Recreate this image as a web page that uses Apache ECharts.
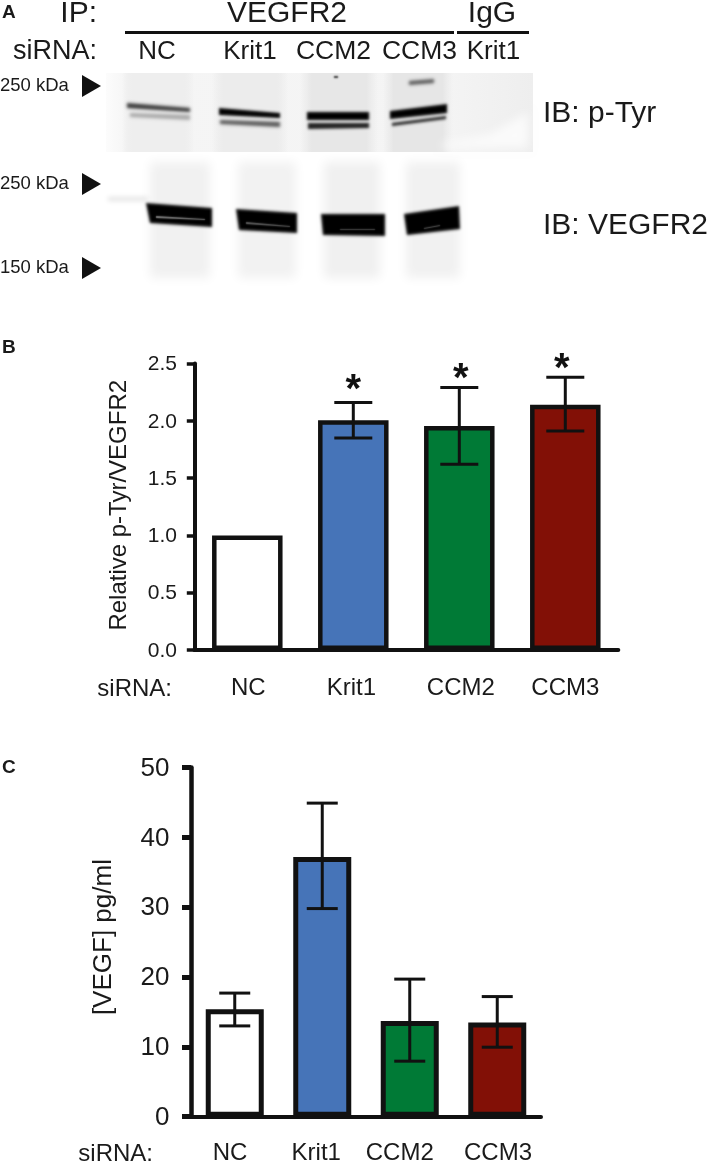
<!DOCTYPE html>
<html><head><meta charset="utf-8">
<style>html,body{margin:0;padding:0;background:#fff}#c{width:709px;height:1163px}</style>
<script src="https://cdn.jsdelivr.net/npm/echarts@6/dist/echarts.min.js"></script>
</head><body><div id="c"></div>
<script>
const categories = ['NC','Krit1','CCM2','CCM3'];
const barColors = ['#ffffff','#4674b8','#007a36','#821006'];
const ratioTicks = [0,0.5,1.0,1.5,2.0,2.5];
const ratioValues = [1.0,2.005,1.955,2.14];
const ratioLow = [null,1.85,1.62,1.91];
const ratioHigh = [null,2.16,2.29,2.38];
const ratioStarLevel = [null,2.26,2.353,2.44];
const starNudge = [0,0,1.5,-3.5];
const vegfTicks = [0,10,20,30,40,50];
const vegfValues = [15.4,37.2,13.7,13.5];
const vegfLow = [13,29.8,7.95,9.95];
const vegfHigh = [17.7,44.9,19.7,17.2];
const labelNudgeB = [1,-2,1.5,0];
const labelNudgeC = [-4.75,-6,-10,0.75];
const sans = '"Liberation Sans",Arial,sans-serif';
const ink = '#111';
const textInk = '#1a1a1a';
const Grad = echarts.graphic.LinearGradient;

function txt(x,y,s,size,opt){opt=opt||{};return {type:'text',x:x,y:y,z:8,scaleX:opt.sx||1,style:{text:s,fill:textInk,font:(opt.bold?'bold ':'')+size+'px '+sans,textAlign:opt.align||'left',textVerticalAlign:'middle'}};}
// soft shape: only its blurred shadow lands on the canvas
function soft(pts,fill,blur,z){return {type:'polygon',z:z,x:-2000,silent:true,shape:{points:pts},style:{fill:fill,shadowBlur:blur,shadowColor:fill,shadowOffsetX:2000}};}
function box(x,y,w,h){return [[x,y],[x+w,y],[x+w,y+h],[x,y+h]];}
function lane(x,w,fill){return {type:'rect',z:5,shape:{x:x,y:73,width:w,height:79},style:{fill:new Grad(0,0,1,0,[{offset:0,color:'rgba(232,232,232,0)'},{offset:.15,color:fill},{offset:.85,color:fill},{offset:1,color:'rgba(232,232,232,0)'}])}};}
function line(x1,y1,x2,y2,w){return {type:'line',z:8,shape:{x1:x1,y1:y1,x2:x2,y2:y2},style:{stroke:ink,lineWidth:w}};}
function arrow(y){return {type:'polygon',z:8,shape:{points:[[82,y-11],[101,y],[82,y+11]]},style:{fill:'#111'}};}

const blotLower = [
  soft(box(150,162,60,116),'#f1f1f1',10,1), soft(box(238,162,58,116),'#f2f2f2',10,1),
  soft(box(324,162,56,116),'#f0f0f0',10,1), soft(box(406,162,54,116),'#f1f1f1',10,1),
  soft(box(108,197,40,4),'#e2e2e2',5,1),
  soft([[146,203],[212,208],[212,227],[150,223]],'#000000',3,2),
  soft([[236,209],[297,213],[297,233],[239,230]],'#000000',3,2),
  soft([[321,214],[385,214],[385,236],[323,235]],'#000000',3,2),
  soft([[404,214],[459,206],[460,229],[407,235]],'#000000',3,2),
  soft([[156,216],[205,219],[205,220],[156,218]],'#8a8a8a',1.5,3),
  soft([[246,222],[290,226],[290,227],[246,224]],'#666666',1.5,3),
  soft([[340,229],[375,229],[375,230],[340,230]],'#555555',1.5,3),
  soft([[424,228],[440,225],[440,226],[424,229]],'#666666',1.5,3),
];
const blotUpper = [
  {type:'rect',z:4,shape:{x:106,y:73,width:427,height:79},style:{fill:new Grad(0,0,1,0,[{offset:0,color:'#fcfcfc'},{offset:.05,color:'#f5f5f5'},{offset:.8,color:'#f4f4f4'},{offset:1,color:'#eeeeee'}])}},
  lane(122,72,'#eeeeee'), lane(212,76,'#ececec'), lane(300,78,'#e7e7e7'), lane(383,70,'#e6e6e6'),
  soft([[442,143],[490,134],[528,112],[528,148],[442,148]],'#fbfbfb',10,5),
  soft([[127,103],[190,108],[190,112],[127,108]],'#333333',3.5,6),
  soft([[130,113],[190,115],[190,120],[130,117]],'#a8a8a8',3.5,6),
  soft([[219,108],[280,113],[280,118],[219,115]],'#000000',3,6),
  soft([[220,120],[280,122],[280,127],[220,124]],'#555555',3.5,6),
  soft([[307,112],[369,112],[369,120],[307,120]],'#000000',3,6),
  soft([[308,123],[369,123],[369,128],[308,129]],'#222222',3,6),
  soft([[390,111],[447,104],[447,113],[390,119]],'#000000',3,6),
  soft([[392,123],[446,116],[446,119],[392,126]],'#222222',3,6),
  soft([[409,81],[434,79],[434,83],[409,85]],'#555555',3.5,6),
  soft([[334,76],[338,76],[338,78],[334,78]],'#333333',2,6),
];

const graphics = blotLower.concat(blotUpper,[
  txt(2,13,'A',19,{bold:true}),
  txt(97,14,'IP:',30,{align:'right'}),
  txt(287,14,'VEGFR2',30,{align:'center'}),
  txt(492,14,'IgG',30,{align:'center'}),
  line(125,32.5,454,32.5,3), line(457,32.5,529,32.5,3),
  txt(97,52,'siRNA:',27,{align:'right'}),
  txt(157,52,'NC',26,{align:'center'}),
  txt(250,52,'Krit1',26,{align:'center'}),
  txt(333.5,52,'CCM2',26.5,{align:'center'}),
  txt(419.5,52,'CCM3',26.5,{align:'center'}),
  txt(493.5,52,'Krit1',26,{align:'center'}),
  txt(0,86,'250 kDa',18.5), txt(0,184,'250 kDa',18.5), txt(0,268,'150 kDa',18.5),
  arrow(86), arrow(184), arrow(268),
  txt(543,114,'IB: p-Tyr',30),
  txt(543,226,'IB: VEGFR2',30),
  txt(2,348,'B',19,{bold:true}),
  txt(2,768,'C',19,{bold:true}),
  txt(172,689,'siRNA:',24,{align:'right'}),
  txt(153,1154,'siRNA:',24,{align:'right'}),
]);

function errorSeries(xi,low,high,cap,stars){
  return {type:'custom',xAxisIndex:xi,yAxisIndex:xi,z:10,
    data:categories.map((c,i)=>[i,low[i],high[i]]),
    renderItem:(p,api)=>{
      const i=api.value(0); if(low[i]==null) return {type:'group',children:[]};
      const a=api.coord([i,low[i]]), b=api.coord([i,high[i]]);
      const s={stroke:ink,lineWidth:3};
      const ch=[
        {type:'line',shape:{x1:a[0],y1:a[1],x2:b[0],y2:b[1]},style:s},
        {type:'line',shape:{x1:a[0]-cap,y1:a[1],x2:a[0]+cap,y2:a[1]},style:s},
        {type:'line',shape:{x1:b[0]-cap,y1:b[1],x2:b[0]+cap,y2:b[1]},style:s}];
      if(stars&&stars[i]!=null){const t=api.coord([i,stars[i]]);ch.push({type:'text',x:t[0]+starNudge[i],y:t[1],style:{text:'*',font:'bold 40px '+sans,fill:ink,textAlign:'center',textVerticalAlign:'middle'}});}
      return {type:'group',children:ch};
    }};
}
// tick and category labels placed through the axis scales, with their individual offsets
function labelSeries(xi,ticks,fmt,size,tickX,nudge,xSize,xDrop){
  return {type:'custom',xAxisIndex:xi,yAxisIndex:xi,z:11,silent:true,
    data:[0],
    renderItem:(p,api)=>{
      const ch=[];
      ticks.forEach(t=>{const c=api.coord([0,t]);
        ch.push({type:'text',x:tickX,y:c[1]+1,style:{text:fmt(t),font:size+'px '+sans,fill:textInk,textAlign:'right',textVerticalAlign:'middle'}});});
      categories.forEach((n,i)=>{const c=api.coord([i,0]);
        ch.push({type:'text',x:c[0]+nudge[i],y:c[1]+xDrop,style:{text:n,font:xSize+'px '+sans,fill:textInk,textAlign:'center',textVerticalAlign:'middle'}});});
      return {type:'group',children:ch};
    }};
}
function barSeries(xi,vals,w,bw){
  return {type:'bar',xAxisIndex:xi,yAxisIndex:xi,barWidth:w,z:3,
    data:vals.map((v,i)=>({value:v,itemStyle:{color:barColors[i],borderColor:ink,borderWidth:bw}}))};
}
function xAxis(idx,w,tw){return {type:'category',gridIndex:idx,data:categories,
  axisLine:{lineStyle:{color:ink,width:w}},
  axisTick:{alignWithLabel:true,length:8,lineStyle:{color:ink,width:tw}},
  axisLabel:{show:false}};}
function yAxis(idx,max,step,name,nameSize,gap,pad,w,tl,tw){return {type:'value',gridIndex:idx,min:0,max:max,interval:step,
  splitLine:{show:false},
  axisLine:{show:true,lineStyle:{color:ink,width:w}},
  axisTick:{show:true,length:tl,lineStyle:{color:ink,width:tw}},
  axisLabel:{show:false},
  name:name,nameLocation:'middle',nameGap:gap,nameRotate:90,nameTextStyle:{color:textInk,fontFamily:sans,fontSize:nameSize,padding:pad}};}

echarts.init(document.getElementById('c'),null,{renderer:'canvas'}).setOption({
  animation:false,backgroundColor:'#fff',
  grid:[{left:194.3,top:363.5,width:424,height:286.5},{left:191,top:767.5,width:350,height:349.2}],
  xAxis:[xAxis(0,4,4),xAxis(1,4,5)],
  yAxis:[yAxis(0,2.5,0.5,'Relative p-Tyr/VEGFR2',24,63,[0,0,0,3],4,7.5,3.5),
         yAxis(1,50,10,'[VEGF] pg/ml',26,74,[0,0,0,10],4.5,9,5)],
  series:[barSeries(0,ratioValues,70.5,4.5),errorSeries(0,ratioLow,ratioHigh,19,ratioStarLevel),
          labelSeries(0,ratioTicks,v=>v.toFixed(1),21,177,labelNudgeB,24,38.5),
          barSeries(1,vegfValues,58,5),errorSeries(1,vegfLow,vegfHigh,15.5),
          labelSeries(1,vegfTicks,v=>String(v),26,169.5,labelNudgeC,24,36.5)],
  graphic:{elements:graphics}
});
</script></body></html>
